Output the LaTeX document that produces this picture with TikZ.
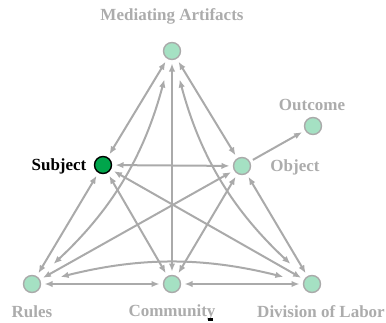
\documentclass[tikz,border=0pt]{standalone}
\usepackage{fontspec}
\setmainfont{Liberation Serif}
\usetikzlibrary{arrows.meta}
\definecolor{edgegray}{RGB}{170,170,170}
\definecolor{labgray}{RGB}{172,172,172}
\definecolor{nodegreen}{RGB}{165,225,195}
\definecolor{subjgreen}{RGB}{0,165,75}

\begin{document}
\begin{tikzpicture}[x=1pt,y=-1pt,font=\fontsize{17}{19}\selectfont\bfseries,>=Latex]
\tikzset{
  dot/.style={circle,draw=edgegray,line width=1.4pt,fill=nodegreen,minimum size=17pt,inner sep=0pt,outer sep=3pt},
  subj/.style={dot,draw=black},
  lab/.style={text=labgray,inner sep=0pt},
  arr/.style={arrows={Latex[length=8pt,width=6.5pt]-Latex[length=8pt,width=6.5pt]},line width=2pt,draw=edgegray,shorten <=1pt,shorten >=1pt},
  one/.style={arr,arrows={-Latex[length=8pt,width=6.5pt]}},
  far/.style={arr,shorten <=18pt,shorten >=18pt}
}
\useasboundingbox (0,0) rectangle (386,322);

% nodes of the activity system
\node[dot] (M) at (172,51) {};
\node[subj,fill=subjgreen] (S) at (103,165) {};
\node[dot] (Ob) at (242,166) {};
\node[dot] (Out) at (313,126) {};
\node[dot] (R) at (32,284) {};
\node[dot] (C) at (172,284) {};
\node[dot] (D) at (312,284) {};

% labels
\node[lab] (Mlab) at (172,16) {Mediating Artifacts};
\node[lab] (Outlab) at (312,105) {Outcome};
\node[lab] (Oblab) at (295,167) {Object};
\node[inner sep=0pt] (Slab) at (59,166) {Subject};
\node[lab] (Rlab) at (32,312) {Rules};
\node[lab] (Clab) at (172,312) {Community};
\node[lab] (Dlab) at (321,312) {Division of Labor};

% straight links
\draw[arr] (M) -- (S);
\draw[arr] (M) -- (Ob);
\draw[arr] (M) -- (C);
\draw[arr] (S) -- (Ob);
\draw[arr] (S) -- (R);
\draw[arr] (S) -- (C);
\draw[arr] (S) -- (D);
\draw[arr] (Ob) -- (R);
\draw[arr] (Ob) -- (C);
\draw[arr] (Ob) -- (D);
\draw[arr] (R) -- (C);
\draw[arr] (C) -- (D);
\draw[one] (Ob) -- (Out);

% bent links round the middle nodes
\draw[far] (M) to[bend left=16] (R);
\draw[far] (M) to[bend right=16] (D);
\draw[far] (R) to[bend left=14] (D);

\fill[black] (208,318) rectangle (213,321);
\end{tikzpicture}
\end{document}
